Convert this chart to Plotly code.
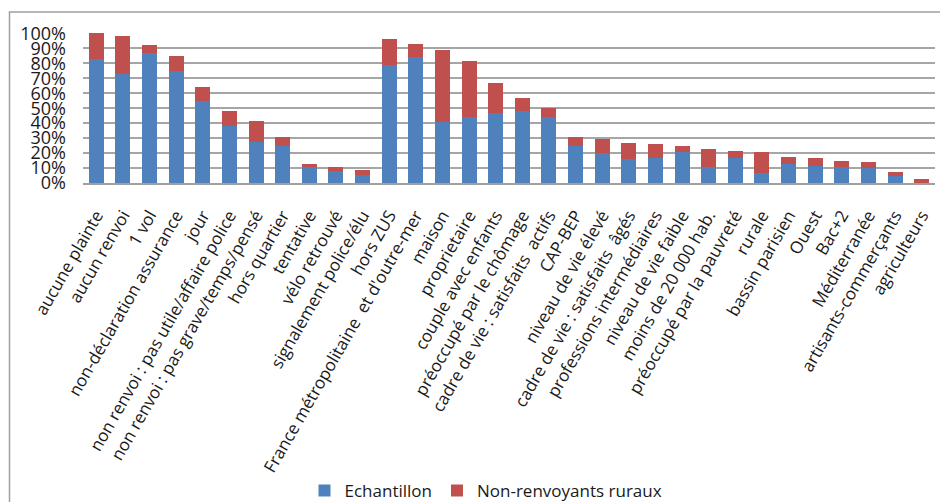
import plotly.graph_objects as go

categories = [
    "aucune plainte", "aucun renvoi", "1 vol", "non-déclaration assurance", "jour",
    "non renvoi : pas utile/affaire police", "non renvoi : pas grave/temps/pensé",
    "hors quartier", "tentative", "vélo retrouvé", "signalement police/élu", "hors ZUS",
    "France métropolitaine  et d'outre-mer", "maison", "proprietaire", "couple avec enfants",
    "préoccupé par le chômage", "cadre de vie : satisfaits  actifs", "CAP-BEP",
    "niveau de vie élevé", "cadre de vie : satisfaits  âgés", "professions intermédiaires",
    "niveau de vie faible", "moins de 20 000 hab.", "préoccupé par la pauvreté", "rurale",
    "bassin parisien", "Ouest", "Bac+2", "Méditerranée", "artisants-commerçants", "agriculteurs",
]

echantillon = [83, 73, 87, 75, 55, 38, 27.5, 25, 10.5, 8, 5.5, 79, 84, 41, 44, 46.5,
               48, 44, 25, 20, 16, 16.5, 21, 11, 17, 6.5, 12.5, 11.5, 11, 10, 5, 0]
non_renvoyants = [17, 25, 5, 10, 9, 10, 14, 6, 2.5, 3, 3.5, 17, 9, 48, 37.5, 20.5,
                  9, 6, 6, 9.5, 11, 9.5, 4, 12, 4.5, 14, 5, 5, 4, 4, 2.5, 2.5]

y_ticks = list(range(0, 101, 10))
y_tick_labels = [f"{v}%" for v in y_ticks]

BLUE = "#4f81bd"
RED = "#c0504d"
FONT = "Open Sans"

fig = go.Figure()
fig.add_trace(go.Bar(name="Echantillon", x=categories, y=echantillon,
                     marker=dict(color=BLUE, line=dict(width=0))))
fig.add_trace(go.Bar(name="Non-renvoyants ruraux", x=categories, y=non_renvoyants,
                     marker=dict(color=RED, line=dict(width=0))))

# plot area in pixels: x 83..935, y 33..183
W, H = 940, 502
L, R, T, B = 83, 935, 33, 183
pw, ph = R - L, B - T


def px_x(x):
    return (x - L) / pw


def px_y(y):
    return (B - y) / ph


fig.update_layout(
    width=W, height=H,
    barmode="stack",
    bargap=0.44,
    margin=dict(l=L, r=W - R, t=T, b=H - B, pad=0),
    paper_bgcolor="white",
    plot_bgcolor="white",
    font=dict(family=FONT, size=17, color="#1a1a1a"),
    showlegend=True,
    legend=dict(orientation="h", xref="container", yref="container",
                x=486 / W, xanchor="center", y=1 - 491 / H, yanchor="middle",
                font=dict(size=17), itemwidth=30, traceorder="normal",
                bgcolor="rgba(0,0,0,0)"),
    xaxis=dict(type="category", tickangle=-60, tickfont=dict(size=17),
               showline=True, linecolor="#a0a0a0", linewidth=1.5,
               ticks="", ticklabelstandoff=14,
               showgrid=False, automargin=False),
    yaxis=dict(range=[0, 100.3], tickvals=y_ticks, ticktext=y_tick_labels,
               tickfont=dict(size=18), showgrid=True, gridcolor="#a6a6a6", gridwidth=1.5,
               zeroline=False, showline=False, ticks="", ticklabelstandoff=16,
               automargin=False),
    shapes=[
        dict(type="rect", xref="paper", yref="paper",
             x0=px_x(9.5), x1=px_x(960), y0=px_y(530), y1=px_y(12),
             line=dict(color="#a0a0a0", width=1.5), fillcolor="rgba(0,0,0,0)",
             layer="below"),
    ],
)

fig.write_html("out.html", config={"displayModeBar": False})
